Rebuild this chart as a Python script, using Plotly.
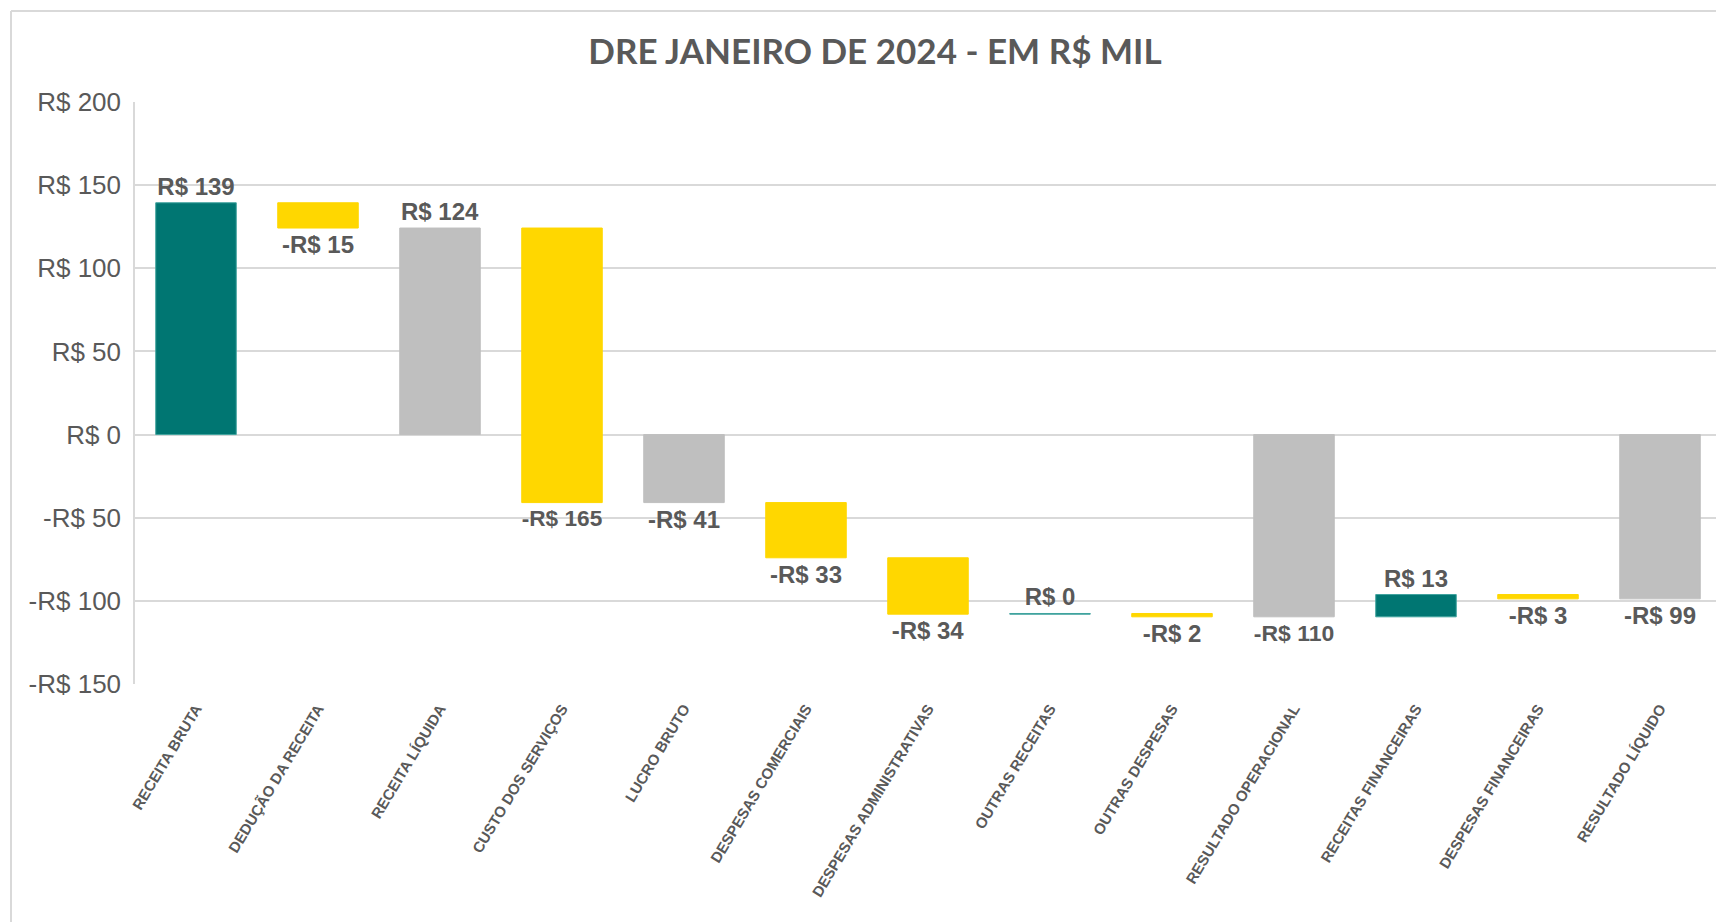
import plotly.graph_objects as go

categories = ["RECEITA BRUTA", "DEDUÇÃO DA RECEITA", "RECEITA LÍQUIDA", "CUSTO DOS SERVIÇOS",
              "LUCRO BRUTO", "DESPESAS COMERCIAIS", "DESPESAS ADMINISTRATIVAS", "OUTRAS RECEITAS",
              "OUTRAS DESPESAS", "RESULTADO OPERACIONAL", "RECEITAS FINANCEIRAS",
              "DESPESAS FINANCEIRAS", "RESULTADO LÍQUIDO"]
values = [139.4, -15.2, 124.2, -165.1, -40.9, -33.2, -33.9, 0.4, -2.0, -109.7, 13.4, -2.6, -98.9]
measures = ["relative", "relative", "total", "relative", "total", "relative", "relative",
            "relative", "relative", "total", "relative", "relative", "total"]
y_tickvals = [-150, -100, -50, 0, 50, 100, 150, 200]
y_ticktext = ["-R$ 150", "-R$ 100", "-R$ 50", "R$ 0", "R$ 50", "R$ 100", "R$ 150", "R$ 200"]
title_text = "DRE JANEIRO DE 2024 - EM R$ MIL"


def brl(v):
    r = int(round(abs(v)))
    return ("-R$ " if v < 0 and r != 0 else "R$ ") + str(r)


labels = [brl(v) for v in values]

TEAL = "#007672"
GOLD = "#FFD700"
GRAY = "#BFBFBF"
TXT = "#595959"
GRID = "#D9D9D9"

W, H = 1716, 914
L, T = 127, 94
PW, PH = 1586, 582

fig = go.Figure(go.Waterfall(
    x=categories,
    y=values,
    measure=measures,
    text=labels,
    textposition="outside",
    textfont=dict(family="Arial", size=24, color=TXT, weight="bold"),
    increasing=dict(marker=dict(color=TEAL, line=dict(color="#3fa39e", width=1))),
    decreasing=dict(marker=dict(color=GOLD, line=dict(color=GOLD, width=1))),
    totals=dict(marker=dict(color=GRAY, line=dict(color=GRAY, width=1))),
    connector=dict(visible=False),
    cliponaxis=False,
))

fig.update_layout(
    width=W, height=H, autosize=False,
    margin=dict(l=L, r=W - L - PW, t=T, b=H - T - PH),
    paper_bgcolor="white", plot_bgcolor="white",
    showlegend=False,
    waterfallgap=0.34,
    title=dict(text=title_text, x=867 / W, xanchor="center", y=1 - 44 / H, yanchor="middle",
               font=dict(family="Lato", size=35, color=TXT, weight="bold")),
    xaxis=dict(type="category", range=[-0.5, 12.5], tickangle=-59, showgrid=False,
               tickfont=dict(family="Arial", size=15, color=TXT, weight="bold"),
               ticklabelstandoff=12, showline=False, zeroline=False),
    yaxis=dict(range=[-150, 200], tickvals=y_tickvals, ticktext=y_ticktext,
               showgrid=True, gridcolor=GRID, gridwidth=1.5,
               zeroline=True, zerolinecolor=GRID, zerolinewidth=1.5,
               showline=True, linecolor=GRID, linewidth=1.5,
               tickfont=dict(family="Arial", size=26, color=TXT),
               ticklabelstandoff=7),
    shapes=[
        dict(type="line", xref="paper", yref="paper", x0=(3 - L) / PW, x1=1.01,
             y0=(T + PH - 3) / PH, y1=(T + PH - 3) / PH, line=dict(color=GRID, width=2)),
        dict(type="line", xref="paper", yref="paper", x0=(3 - L) / PW, x1=(3 - L) / PW,
             y0=(T + PH - 3) / PH, y1=-0.5, line=dict(color=GRID, width=2)),
    ],
)

fig.write_html("out.html")
